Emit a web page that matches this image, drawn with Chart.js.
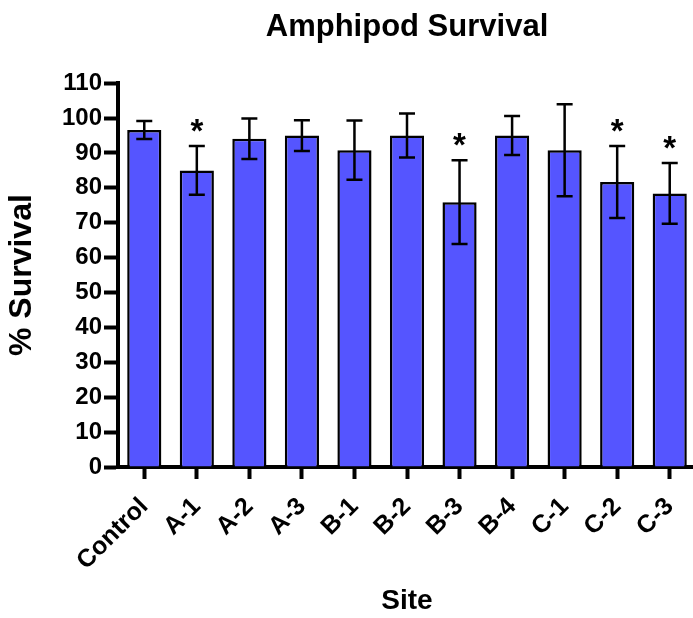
<!DOCTYPE html>
<html lang="en">

<head>
    <meta charset="UTF-8">
    <title>Amphipod Survival</title>
    <script src="https://cdn.jsdelivr.net/npm/chart.js"></script>
    <style>
        html, body {
            margin: 0;
            padding: 0;
            background: #fff;
            overflow: hidden;
        }

        #chartBox {
            width: 693px;
            height: 618px;
            overflow: hidden;
        }
    </style>
</head>

<body>
    <div id="chartBox">
        <canvas id="survivalChart" width="696" height="618"></canvas>
    </div>
    <script>
        // Sites and mean survival (%) with error (+/-)
        const sites = ['Control', 'A-1', 'A-2', 'A-3', 'B-1', 'B-2', 'B-3', 'B-4', 'C-1', 'C-2', 'C-3'];
        const survival = [96.6, 85.0, 94.1, 95.0, 90.8, 95.0, 75.9, 95.0, 90.8, 81.7, 78.4];
        const errors = [2.6, 7.0, 5.8, 4.4, 8.5, 6.3, 12.0, 5.6, 13.2, 10.3, 8.7];
        // Sites flagged with an asterisk
        const significant = [false, true, false, false, false, false, true, false, false, true, true];
        const yTicks = [0, 10, 20, 30, 40, 50, 60, 70, 80, 90, 100, 110];

        const fontFamily = '"Liberation Sans", Arial, Helvetica, sans-serif';

        // error bars and asterisks on top of the bars
        const errorBarPlugin = {
            id: 'errorBars',
            afterDatasetsDraw(chart) {
                const ctx = chart.ctx;
                const xScale = chart.scales.x;
                const yScale = chart.scales.y;
                const capHalf = 8;

                ctx.save();
                ctx.strokeStyle = '#000';
                ctx.lineWidth = 2.5;
                ctx.lineCap = 'butt';
                survival.forEach((v, i) => {
                    const x = xScale.getPixelForValue(i);
                    const yTop = yScale.getPixelForValue(v + errors[i]);
                    const yBot = yScale.getPixelForValue(v - errors[i]);
                    ctx.beginPath();
                    ctx.moveTo(x, yTop);
                    ctx.lineTo(x, yBot);
                    ctx.moveTo(x - capHalf, yTop);
                    ctx.lineTo(x + capHalf, yTop);
                    ctx.moveTo(x - capHalf, yBot);
                    ctx.lineTo(x + capHalf, yBot);
                    ctx.stroke();

                    if (significant[i]) {
                        ctx.fillStyle = '#000';
                        ctx.font = 'bold 33px ' + fontFamily;
                        ctx.textAlign = 'center';
                        ctx.textBaseline = 'alphabetic';
                        ctx.fillText('*', x, yTop - 4);
                    }
                });
                ctx.restore();
            }
        };

        new Chart(document.getElementById('survivalChart'), {
            type: 'bar',
            data: {
                labels: sites,
                datasets: [{
                    label: '% Survival',
                    data: survival,
                    backgroundColor: '#5555FF',
                    borderColor: '#000',
                    borderWidth: 2.5,
                    categoryPercentage: 1.0,
                    barPercentage: 0.65
                }]
            },
            options: {
                responsive: false,
                animation: false,
                devicePixelRatio: 1,
                layout: {
                    padding: 0
                },
                plugins: {
                    legend: {
                        display: false
                    },
                    tooltip: {
                        enabled: false
                    },
                    title: {
                        display: true,
                        fullSize: false,
                        text: 'Amphipod Survival',
                        color: '#000',
                        font: { family: fontFamily, size: 31, weight: 'bold' },
                        padding: { top: 9, bottom: 37 }
                    }
                },
                scales: {
                    x: {
                        z: 1,
                        offset: true,
                        afterFit: function (scale) {
                            // fixed axis band; rotated labels need no side padding here
                            scale.height = 151;
                            scale.paddingLeft = 0;
                            scale.paddingRight = 0;
                        },
                        grid: {
                            offset: false,
                            drawOnChartArea: false,
                            drawTicks: true,
                            tickLength: 12,
                            tickWidth: 4,
                            tickColor: '#000'
                        },
                        border: {
                            color: '#000',
                            width: 4
                        },
                        ticks: {
                            color: '#000',
                            minRotation: 45,
                            maxRotation: 45,
                            padding: 13,
                            font: { family: fontFamily, size: 25, weight: 'bold' }
                        },
                        title: {
                            display: true,
                            text: 'Site',
                            color: '#000',
                            padding: 0,
                            font: { family: fontFamily, size: 28, weight: 'bold' }
                        }
                    },
                    y: {
                        z: 1,
                        min: 0,
                        max: 110,
                        afterFit: function (scale) {
                            scale.width = 118;
                        },
                        afterBuildTicks: function (scale) {
                            scale.ticks = yTicks.map(v => ({ value: v }));
                        },
                        grid: {
                            drawOnChartArea: false,
                            drawTicks: true,
                            tickLength: 14,
                            tickWidth: 4,
                            tickColor: '#000'
                        },
                        border: {
                            color: '#000',
                            width: 4
                        },
                        ticks: {
                            color: '#000',
                            padding: 2,
                            font: { family: fontFamily, size: 24, weight: 'bold' }
                        },
                        title: {
                            display: true,
                            text: '% Survival',
                            color: '#000',
                            padding: { top: 3, bottom: 0 },
                            font: { family: fontFamily, size: 32, weight: 'bold' }
                        }
                    }
                }
            },
            plugins: [errorBarPlugin]
        });
    </script>
</body>

</html>
